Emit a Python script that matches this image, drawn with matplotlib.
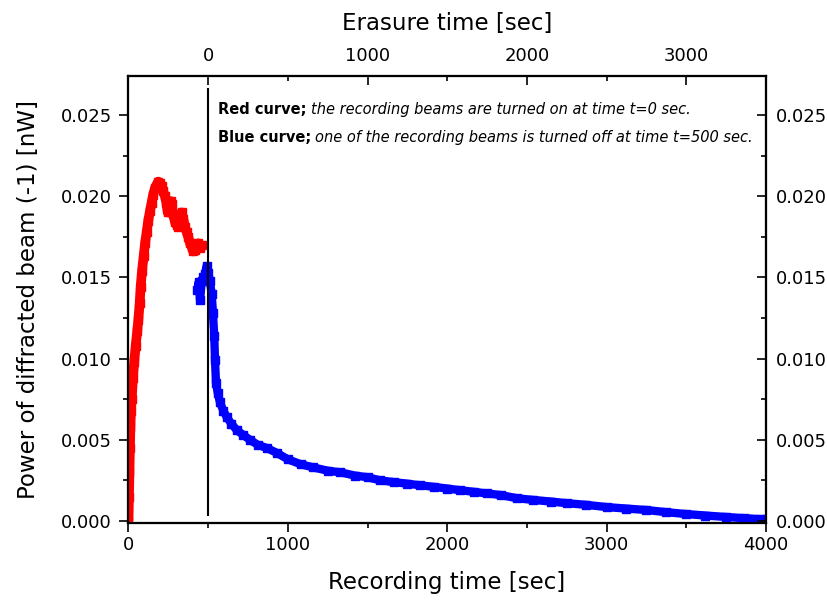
import matplotlib
matplotlib.use("Agg")
import matplotlib.pyplot as plt
from matplotlib.ticker import MultipleLocator, FormatStrFormatter

# ---- data ----
red_t = [0, 3, 6, 9, 12, 16, 20, 28, 36, 45, 55, 62, 70, 76, 85, 95, 104, 114, 124,
         135, 145, 155, 166, 176, 187, 197, 208, 218, 229, 238, 246, 256, 264, 271,
         280, 292, 303, 313, 324, 334, 344, 354, 365, 375, 386, 396, 406, 417, 428,
         438, 448, 460]
red_p = [0.0, 0.0015, 0.0030, 0.0045, 0.0058, 0.0068, 0.0075, 0.0088, 0.0098, 0.0108,
         0.0117, 0.0124, 0.0134, 0.0144, 0.0154, 0.0163, 0.0171, 0.0178, 0.0185,
         0.0191, 0.0196, 0.0201, 0.0205, 0.0207, 0.0209, 0.0208, 0.0206, 0.0203,
         0.0200, 0.0196, 0.0190, 0.0193, 0.0197, 0.0195, 0.0189, 0.0184, 0.0182,
         0.0181, 0.0186, 0.0190, 0.0186, 0.0181, 0.0178, 0.0175, 0.0171, 0.0169,
         0.0166, 0.0167, 0.0170, 0.0171, 0.0168, 0.0170]

blue_t = [432, 440, 449, 460, 469, 480, 490, 500, 510, 522, 530, 538, 543, 549, 560,
          574, 595, 616, 645, 679, 720, 762, 810, 867, 930, 1000, 1080, 1160, 1250,
          1330, 1420, 1500, 1580, 1663, 1750, 1832, 1920, 2000, 2080, 2165, 2250,
          2335, 2440, 2540, 2650, 2750, 2870, 3000, 3120, 3250, 3370, 3500, 3620,
          3750, 3860, 3960, 4000]
blue_p = [0.0142, 0.0147, 0.0136, 0.0148, 0.0150, 0.0152, 0.0157, 0.0153, 0.0148,
          0.0140, 0.0128, 0.0114, 0.0099, 0.0085, 0.0079, 0.0073, 0.0068, 0.0064,
          0.0060, 0.0056, 0.0053, 0.0050, 0.0047, 0.0045, 0.0042, 0.0038, 0.0035,
          0.0033, 0.0031, 0.0030, 0.0028, 0.0027, 0.0025, 0.0024, 0.0023, 0.0022,
          0.0021, 0.0020, 0.0019, 0.0018, 0.0017, 0.0016, 0.0014, 0.0013, 0.0012,
          0.0011, 0.0010, 0.00086, 0.00077, 0.00068, 0.00055, 0.00043, 0.00034,
          0.00025, 0.00018, 0.00012, 0.00010]

marker_time = 500
marker_line_p = [0.0004, 0.0266]
erasure_offset = 500

xlabel = "Recording time [sec]"
toplabel = "Erasure time [sec]"
ylabel = "Power of diffracted beam (-1) [nW]"
note1_bold = "Red curve;"
note1_ital = "the recording beams are turned on at time t=0 sec."
note2_bold = "Blue curve;"
note2_ital = "one of the recording beams is turned off at time t=500 sec."

plt.rcParams['font.family'] = ['DejaVu Sans']

fig = plt.figure(figsize=(8.28, 6.01), dpi=100)
ax = fig.add_axes([0.1546, 0.1298, 0.7705, 0.7437])

xlim = (-3, 4000)
ylim = (-0.00012, 0.0274)

ax.plot(red_t, red_p, color='#ff0000', lw=7, marker='s', ms=6,
        solid_capstyle='butt', zorder=3)
ax.plot(blue_t, blue_p, color='#0000ff', lw=6, marker='s', ms=6,
        solid_capstyle='butt', zorder=3)
ax.plot([marker_time, marker_time], marker_line_p, color='black', lw=1.5, zorder=4)

ax.set_xlim(*xlim)
ax.set_ylim(*ylim)
ax.xaxis.set_major_locator(MultipleLocator(1000))
ax.xaxis.set_minor_locator(MultipleLocator(500))
ax.yaxis.set_major_locator(MultipleLocator(0.005))
ax.yaxis.set_minor_locator(MultipleLocator(0.0025))
ax.yaxis.set_major_formatter(FormatStrFormatter('%.3f'))
ax.tick_params(which='major', direction='out', length=6.5, width=1.2, labelsize=13)
ax.tick_params(which='minor', direction='out', length=3.5, width=1.2)
ax.tick_params(axis='x', which='major', pad=3)
ax.tick_params(axis='y', which='major', pad=5)
ax.set_xlabel(xlabel, fontsize=16.5, labelpad=12)
ax.set_ylabel(ylabel, fontsize=16.5, labelpad=15)

for s in ax.spines.values():
    s.set_linewidth(1.5)

# right axis
axr = ax.twinx()
axr.set_ylim(*ylim)
axr.yaxis.set_major_locator(MultipleLocator(0.005))
axr.yaxis.set_minor_locator(MultipleLocator(0.0025))
axr.yaxis.set_major_formatter(FormatStrFormatter('%.3f'))
axr.tick_params(which='major', direction='in', length=6.5, width=1.2, labelsize=13, pad=7)
axr.tick_params(which='minor', direction='in', length=3.5, width=1.2)

# top axis
axt = ax.twiny()
axt.set_xlim(xlim[0] - erasure_offset, xlim[1] - erasure_offset)
axt.xaxis.set_major_locator(MultipleLocator(1000))
axt.xaxis.set_minor_locator(MultipleLocator(500))
axt.tick_params(which='major', direction='in', length=6.5, width=1.2, labelsize=13, pad=8)
axt.tick_params(which='minor', direction='in', length=3.5, width=1.2)
axt.set_xticks([0, 1000, 2000, 3000])
axt.set_xlabel(toplabel, fontsize=16.5, labelpad=12)
for a in (axr, axt):
    for s in a.spines.values():
        s.set_linewidth(1.5)

# annotation
fs = 10.5
t1 = ax.text(0.141, 0.924, note1_bold, transform=ax.transAxes, fontsize=fs,
             fontweight='bold', va='center', ha='left')
ax.annotate(note1_ital, xy=(1, 0.5), xycoords=t1, xytext=(3, 0),
            textcoords='offset points', fontsize=fs, style='italic',
            va='center', ha='left')
t2 = ax.text(0.141, 0.8635, note2_bold, transform=ax.transAxes, fontsize=fs,
             fontweight='bold', va='center', ha='left')
ax.annotate(note2_ital, xy=(1, 0.5), xycoords=t2, xytext=(3, 0),
            textcoords='offset points', fontsize=fs, style='italic',
            va='center', ha='left')

fig.savefig("out.png", dpi=100)
